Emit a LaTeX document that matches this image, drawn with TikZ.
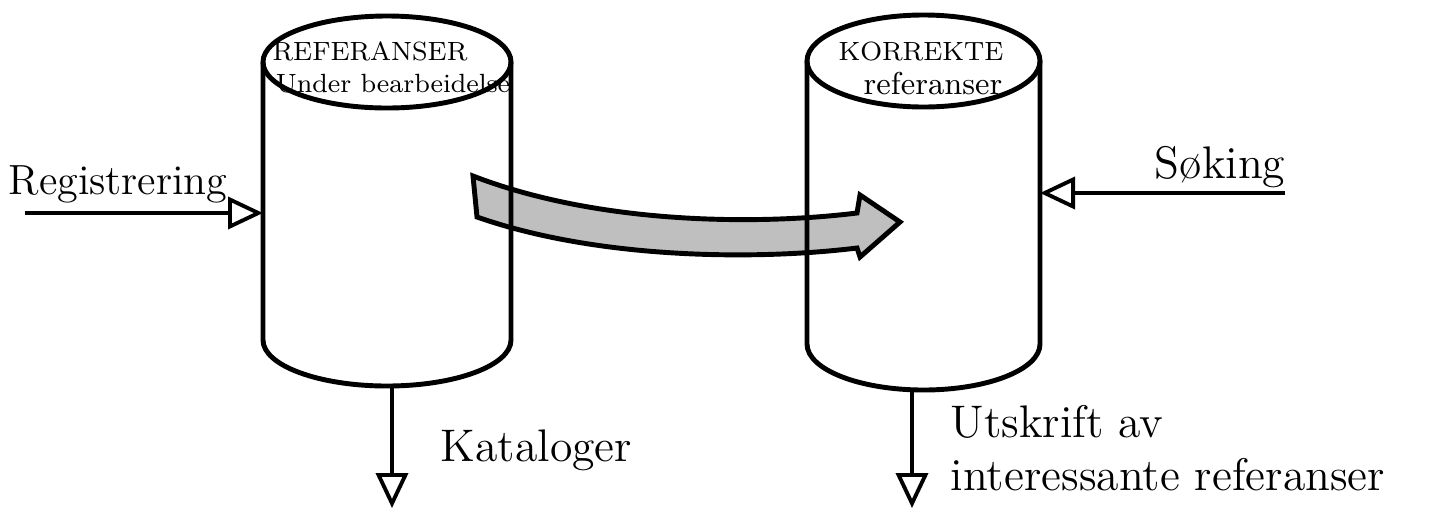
\documentclass[tikz,border=0pt]{standalone}
\usetikzlibrary{arrows.meta}

\tikzset{
  store/.style={line width=1.4pt},
  flow/.style={line width=1.1pt,-{Triangle[open,length=3.5mm,width=3.2mm]}},
  bigflow/.style={line width=1.4pt,fill=black!25},
  lbl/.style={font=\fontsize{13}{15}\selectfont,inner sep=0pt},
  inlbl/.style={font=\fontsize{7.5}{9}\selectfont,inner sep=0pt},
}

\begin{document}
\begin{tikzpicture}
  \useasboundingbox (0,0) rectangle (14.56,5.10);

  % broad arrow, drawn first so the store walls show through it
  \coordinate (move-top) at (4.73,3.34);
  \coordinate (move-bot) at (4.77,2.93);
  \coordinate (move-tip) at (9.00,2.88);
  \draw [bigflow] (move-top) .. controls (6.0,2.85) and (7.6,2.85) .. (8.57,2.97)
    -- (8.60,3.15) -- (move-tip) -- (8.60,2.53) -- (8.57,2.62)
    .. controls (7.6,2.50) and (6.0,2.50) .. (move-bot) -- cycle;

  % store: references being worked on
  \draw [store] (3.87,4.48) ellipse (1.24 and 0.46);
  \draw [store] (2.63,4.48) -- (2.63,1.70) arc (180:360:1.24 and 0.46) -- (5.11,4.48);
  \coordinate (work-w) at (2.63,2.97);
  \coordinate (work-s) at (3.92,1.25);
  \node (work-a) [inlbl] at (3.70,4.59) {REFERANSER};
  \node (work-b) [inlbl] at (3.93,4.26) {Under bearbeidelse};

  % store: correct references
  \draw [store] (9.235,4.49) ellipse (1.165 and 0.46);
  \draw [store] (8.07,4.49) -- (8.07,1.66) arc (180:360:1.165 and 0.46) -- (10.40,4.49);
  \coordinate (done-e) at (10.40,3.17);
  \coordinate (done-s) at (9.12,1.21);
  \node (done-a) [inlbl] at (9.21,4.59) {KORREKTE};
  \node (done-b) [inlbl,font=\fontsize{9}{10}\selectfont] at (9.33,4.26) {referanser};

  % inputs and outputs
  \coordinate (reg-in) at (0.25,2.97);
  \coordinate (sok-in) at (12.85,3.17);
  \coordinate (kat-out) at (3.92,0.02);
  \coordinate (uts-out) at (9.12,0.02);
  \draw [flow] (reg-in) -- (work-w);
  \draw [flow] (sok-in) -- (done-e);
  \draw [flow] (work-s) -- (kat-out);
  \draw [flow] (done-s) -- (uts-out);

  \node (reg) [lbl,font=\fontsize{12}{14}\selectfont] at (1.18,3.26) {Registrering};
  \node (sok) [lbl] at (12.20,3.43) {Søking};
  \node (kat) [lbl,anchor=west] at (4.40,0.60) {Kataloger};
  \node (uts) [lbl,anchor=west,align=left] at (9.50,0.62) {Utskrift av\\interessante referanser};
\end{tikzpicture}
\end{document}
